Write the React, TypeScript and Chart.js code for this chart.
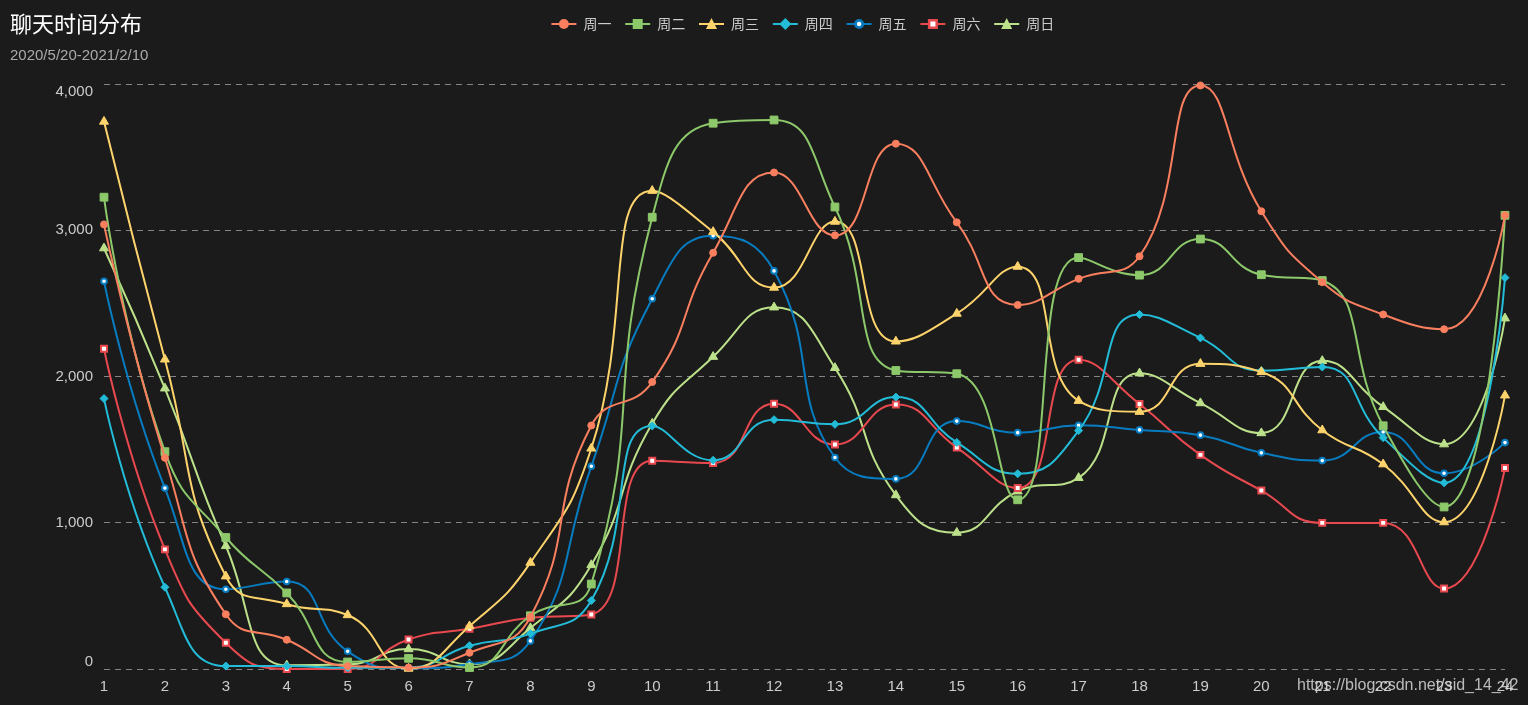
import React, { useEffect, useRef } from 'react';
import { Chart, registerables } from 'chart.js';

Chart.register(...registerables);

// ---------- data ----------
const hours = ['1', '2', '3', '4', '5', '6', '7', '8', '9', '10', '11', '12', '13', '14', '15', '16', '17', '18', '19', '20', '21', '22', '23', '24'];
const seriesNames = ['周一', '周二', '周三', '周四', '周五', '周六', '周日'];

const mon = [3040, 1444, 374, 200, 20, 10, 111, 356, 1665, 1962, 2846, 3395, 2965, 3592, 3054, 2489, 2668, 2822, 3990, 3130, 2645, 2424, 2323, 3102];
const tue = [3226, 1486, 899, 520, 48, 73, 10, 364, 581, 3089, 3732, 3754, 3159, 2041, 2019, 1157, 2813, 2693, 2940, 2696, 2656, 1663, 1108, 3102];
const wed = [3743, 2117, 634, 444, 369, 3, 293, 727, 1508, 3270, 2989, 2608, 3059, 2240, 2430, 2751, 1834, 1759, 2087, 2031, 1633, 1400, 1004, 1871];
const thu = [1849, 559, 20, 20, 8, 10, 159, 242, 468, 1662, 1427, 1705, 1673, 1859, 1549, 1335, 1630, 2424, 2264, 2040, 2065, 1582, 1273, 2676];
const fri = [2651, 1237, 545, 598, 121, 5, 33, 192, 1386, 2532, 2962, 2722, 1446, 1300, 1695, 1616, 1666, 1635, 1599, 1478, 1425, 1621, 1338, 1548];
const sat = [2190, 818, 179, 0, 0, 202, 275, 350, 373, 1424, 1408, 1814, 1535, 1808, 1514, 1238, 2115, 1812, 1464, 1220, 999, 999, 550, 1374];
const sun = [2877, 1919, 841, 25, 30, 136, 33, 280, 711, 1678, 2135, 2473, 2059, 1189, 932, 1215, 1307, 2022, 1818, 1613, 2107, 1792, 1537, 2398];

const seriesValues = [mon, tue, wed, thu, fri, sat, sun];
const yMin = 0;
const yMax = 4000;
const yStep = 1000;

const titleText = '聊天时间分布';
const subtitleText = '2020/5/20-2021/2/10';
const watermarkText = 'https://blog.csdn.net/sid_14_42';

// ---------- styles ----------
const BG = '#1b1b1b';
const colors = ['#f97f5f', '#8dc96b', '#fdd36c', '#23bcd8', '#087cc0', '#e8494f', '#bce18a'];
const markerKinds = ['circle', 'rect', 'triangle', 'rectRot', 'circleHollow', 'rectHollow', 'triangle'];
const FONT_LATIN = 'Helvetica, Arial, "Liberation Sans", sans-serif';
const FONT_CJK = '"Noto Sans CJK SC", "Noto Sans", sans-serif';
const SMOOTH = 0.5;

function pointOpts(kind: string, color: string) {
  switch (kind) {
    case 'circle':
      return { pointStyle: 'circle', pointRadius: 3.5, pointBackgroundColor: color, pointBorderWidth: 1 };
    case 'rect':
      return { pointStyle: 'rect', pointRadius: 5.5, pointBackgroundColor: color, pointBorderWidth: 1 };
    case 'triangle':
      return { pointStyle: 'triangle', pointRadius: 5.2, pointBackgroundColor: color, pointBorderWidth: 1 };
    case 'rectRot':
      return { pointStyle: 'rectRot', pointRadius: 4, pointBackgroundColor: color, pointBorderWidth: 1 };
    case 'circleHollow':
      return { pointStyle: 'circle', pointRadius: 2.8, pointBackgroundColor: '#ffffff', pointBorderWidth: 2 };
    case 'rectHollow':
    default:
      return { pointStyle: 'rect', pointRadius: 4.2, pointBackgroundColor: '#ffffff', pointBorderWidth: 2 };
  }
}

function drawLegendMarker(ctx: CanvasRenderingContext2D, kind: string, color: string, x: number, y: number) {
  ctx.save();
  ctx.fillStyle = color;
  ctx.beginPath();
  if (kind === 'circle') {
    ctx.arc(x, y, 5, 0, Math.PI * 2);
    ctx.fill();
  } else if (kind === 'rect') {
    ctx.fillRect(x - 5, y - 5, 10, 10);
  } else if (kind === 'triangle') {
    ctx.moveTo(x, y - 6);
    ctx.lineTo(x + 5.5, y + 5);
    ctx.lineTo(x - 5.5, y + 5);
    ctx.closePath();
    ctx.fill();
  } else if (kind === 'rectRot') {
    ctx.moveTo(x, y - 6);
    ctx.lineTo(x + 6, y);
    ctx.lineTo(x, y + 6);
    ctx.lineTo(x - 6, y);
    ctx.closePath();
    ctx.fill();
  } else if (kind === 'circleHollow') {
    ctx.arc(x, y, 5, 0, Math.PI * 2);
    ctx.fill();
    ctx.beginPath();
    ctx.fillStyle = '#ffffff';
    ctx.arc(x, y, 2.2, 0, Math.PI * 2);
    ctx.fill();
  } else {
    ctx.fillRect(x - 5, y - 5, 10, 10);
    ctx.fillStyle = '#ffffff';
    ctx.fillRect(x - 2.5, y - 2.5, 5, 5);
  }
  ctx.restore();
}

const clamp = (v: number, a: number, b: number) => Math.max(Math.min(v, Math.max(a, b)), Math.min(a, b));

// ECharts-like smoothing of the bezier control points (clamped, no overshoot)
function applySmoothing(points: any[]) {
  const n = points.length;
  for (let k = 0; k < n; k++) {
    const p = points[k];
    if (k === 0) {
      p.cp1x = p.x; p.cp1y = p.y;
    }
    if (k === n - 1) {
      p.cp2x = p.x; p.cp2y = p.y;
      if (k > 0) { p.cp1x = p.x; p.cp1y = p.y; }
      continue;
    }
    if (k === 0) {
      p.cp2x = p.x; p.cp2y = p.y;
      continue;
    }
    const prev = points[k - 1];
    const next = points[k + 1];
    const x = p.x, y = p.y;
    let vx = next.x - prev.x;
    let vy = next.y - prev.y;
    const lenPrev = Math.hypot(x - prev.x, y - prev.y) || 1e-6;
    const lenNext = Math.hypot(next.x - x, next.y - y) || 1e-6;
    const ratio = lenNext / (lenNext + lenPrev);
    let ncx = x + vx * SMOOTH * ratio;
    let ncy = y + vy * SMOOTH * ratio;
    ncx = clamp(ncx, next.x, x);
    ncy = clamp(ncy, next.y, y);
    vx = ncx - x; vy = ncy - y;
    let c1x = x - vx * lenPrev / lenNext;
    let c1y = y - vy * lenPrev / lenNext;
    c1x = clamp(c1x, prev.x, x);
    c1y = clamp(c1y, prev.y, y);
    vx = x - c1x; vy = y - c1y;
    ncx = x + vx * lenNext / lenPrev;
    ncy = y + vy * lenNext / lenPrev;
    p.cp1x = c1x; p.cp1y = c1y;
    p.cp2x = ncx; p.cp2y = ncy;
  }
}

const smoothPlugin = {
  id: 'echartsSmooth',
  beforeDatasetDraw(chart: any, args: any) {
    const meta = args.meta;
    const line = meta.dataset;
    if (!line) return;
    applySmoothing(meta.data);
    line._pointsUpdated = true;
    line._path = undefined;
  },
};

const decorPlugin = {
  id: 'decor',
  beforeDraw(chart: any) {
    const ctx = chart.ctx as CanvasRenderingContext2D;
    ctx.save();
    ctx.fillStyle = BG;
    ctx.fillRect(0, 0, chart.width, chart.height);
    ctx.restore();
  },
  afterDraw(chart: any) {
    const ctx = chart.ctx as CanvasRenderingContext2D;
    ctx.save();
    ctx.textBaseline = 'middle';
    ctx.textAlign = 'left';
    ctx.fillStyle = '#ffffff';
    ctx.font = `22px ${FONT_CJK}`;
    ctx.fillText(titleText, 10, 24);
    ctx.fillStyle = '#aaaaaa';
    ctx.font = `15px ${FONT_LATIN}`;
    ctx.fillText(subtitleText, 10, 56);

    const startX = 551.4;
    const pitch = 73.8;
    const ly = 24;
    seriesNames.forEach((name, i) => {
      const x0 = startX + i * pitch;
      ctx.strokeStyle = colors[i];
      ctx.lineWidth = 2;
      ctx.beginPath();
      ctx.moveTo(x0, ly);
      ctx.lineTo(x0 + 25, ly);
      ctx.stroke();
      drawLegendMarker(ctx, markerKinds[i], colors[i], x0 + 12.5, ly);
      ctx.fillStyle = '#cccccc';
      ctx.font = `14px ${FONT_CJK}`;
      ctx.textBaseline = 'middle';
      ctx.fillText(name, x0 + 32, ly);
    });

    ctx.font = `16px ${FONT_LATIN}`;
    ctx.fillStyle = 'rgba(215,215,215,0.85)';
    ctx.fillText(watermarkText, 1297, 686);
    ctx.restore();
  },
};

export default function App() {
  const canvasRef = useRef<HTMLCanvasElement | null>(null);

  useEffect(() => {
    document.body.style.margin = '0';
    document.body.style.background = BG;
    const canvas = canvasRef.current;
    if (!canvas) return;

    const datasets = seriesNames.map((name, i) => ({
      label: name,
      data: seriesValues[i],
      borderColor: colors[i],
      borderWidth: 2,
      tension: 0.4,
      fill: false,
      clip: false as any,
      pointBorderColor: colors[i],
      pointHoverRadius: 5,
      ...pointOpts(markerKinds[i], colors[i]),
    }));

    const chart = new Chart(canvas, {
      type: 'line',
      data: { labels: hours, datasets: datasets as any },
      options: {
        responsive: false,
        animation: false,
        devicePixelRatio: 1,
        layout: { padding: { top: 84, right: 23, left: 0, bottom: 0 } },
        plugins: {
          legend: { display: false },
          title: { display: false },
          tooltip: { enabled: false },
        },
        scales: {
          x: {
            type: 'category',
            offset: false,
            grid: { display: false, drawTicks: false },
            border: { display: false },
            ticks: {
              color: '#cccccc',
              font: { family: FONT_LATIN, size: 15, lineHeight: 1 },
              padding: 10,
              autoSkip: false,
              maxRotation: 0,
              minRotation: 0,
            },
            afterFit: (scale: any) => {
              scale.height = 36;
            },
          },
          y: {
            min: yMin,
            max: yMax,
            grid: { color: '#858585', lineWidth: 1, drawTicks: false },
            border: { display: false, dash: [6, 5] },
            ticks: {
              stepSize: yStep,
              color: '#cccccc',
              padding: 11,
              font: { family: FONT_LATIN, size: 15, lineHeight: 1 },
              callback: (value: any) => {
                const v = Number(value);
                const s = v.toLocaleString('en-US');
                if (v === yMin) return [s, ''];
                if (v === yMax) return ['', s];
                return s;
              },
            },
            afterFit: (scale: any) => {
              scale.width = 104;
            },
          },
        },
      },
      plugins: [decorPlugin, smoothPlugin],
    });

    return () => chart.destroy();
  }, []);

  return (
    <div style={{ position: 'absolute', left: 0, top: 0, width: 1528, height: 705 }}>
      <canvas ref={canvasRef} width={1528} height={705} style={{ display: 'block' }} />
    </div>
  );
}
